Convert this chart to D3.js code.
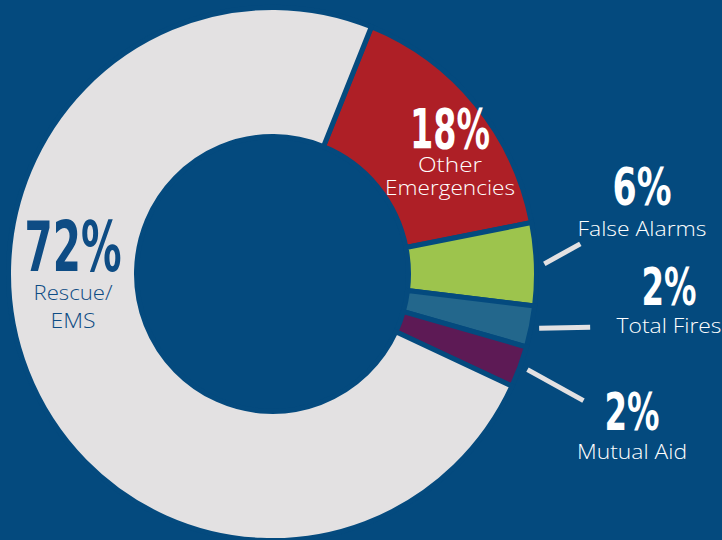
<!DOCTYPE html>
<html>
<head>
<meta charset="utf-8">
<script src="https://cdn.jsdelivr.net/npm/d3@7"></script>
<style>
  html, body { margin: 0; padding: 0; background: #044a7e; }
  svg { display: block; }
</style>
</head>
<body>
<script>
// ---- data (slice sizes, in order clockwise from ~22°) ----
const categories = ["Other Emergencies", "False Alarms", "Total Fires", "Mutual Aid", "Rescue/EMS"];
const values = [15.8, 5.0, 2.5, 2.5, 74.2];
const percentLabels = ["18%", "6%", "2%", "2%", "72%"];
const nameLines = [["Other", "Emergencies"], ["False Alarms"], ["Total Fires"], ["Mutual Aid"], ["Rescue/", "EMS"]];
const colors = ["#ae1f26", "#9dc44d", "#23678c", "#5d1a55", "#e3e1e2"];

const W = 722, H = 540;
const BG = "#044a7e";
const cx = 272.5, cy = 274, rIn = 136, rOut = 264;

const svg = d3.select("body").append("svg").attr("width", W).attr("height", H);
svg.append("rect").attr("width", W).attr("height", H).attr("fill", BG);

const start = 22 * Math.PI / 180;
const pie = d3.pie().sort(null).value(d => d).startAngle(start).endAngle(start + 2 * Math.PI);
const arcs = pie(values);
const arc = d3.arc().innerRadius(rIn).outerRadius(rOut);

const g = svg.append("g").attr("transform", `translate(${cx},${cy}) scale(1,1.01)`);
g.selectAll("path").data(arcs).join("path")
  .attr("d", arc)
  .attr("fill", (d, i) => colors[i])
  .attr("stroke", BG)
  .attr("stroke-width", 5)
  .attr("stroke-linejoin", "miter");

// leader lines for small slices (index 1..3)
const leader = [
  { i: 1, dx: 36, dy: -20 },
  { i: 2, dx: 51, dy: -1 },
  { i: 3, dx: 56, dy: 31 }
];
leader.forEach(l => {
  const a = arcs[l.i];
  const mid = (a.startAngle + a.endAngle) / 2;
  const r0 = rOut + 8;
  const x0 = cx + r0 * Math.sin(mid), y0 = cy - r0 * Math.cos(mid) * 1.01;
  svg.append("line")
    .attr("x1", x0).attr("y1", y0)
    .attr("x2", x0 + l.dx).attr("y2", y0 + l.dy)
    .attr("stroke", "#e3e1e2").attr("stroke-width", 5);
});

// labels: [center x, percent baseline, percent width, percent font size, name baseline, name line gap, color, name size]
const labelPos = [
  { x: 450, py: 148, pw: 80, ps: 55, ny: 172, gap: 23, col: "#ffffff", ns: 19.5, nw: [64, 130] },
  { x: 642, py: 205, pw: 59, ps: 51, ny: 236, gap: 23, col: "#ffffff", ns: 19.5, nw: [129] },
  { x: 669, py: 305, pw: 55, ps: 51, ny: 333, gap: 23, col: "#ffffff", ns: 19.5, nw: [105] },
  { x: 632, py: 430, pw: 55, ps: 51, ny: 459, gap: 23, col: "#ffffff", ns: 19.5, nw: [110] },
  { x: 73, py: 271, pw: 97, ps: 69, ny: 300, gap: 28, col: "#0e4c84", ns: 20, nw: [79, 45] }
];

labelPos.forEach((p, i) => {
  svg.append("text")
    .attr("x", p.x).attr("y", p.py)
    .attr("text-anchor", "middle")
    .attr("font-family", "'DejaVu Sans Condensed', 'Liberation Sans Narrow', sans-serif")
    .attr("font-weight", "bold")
    .attr("font-size", p.ps)
    .attr("textLength", p.pw)
    .attr("lengthAdjust", "spacingAndGlyphs")
    .attr("fill", p.col)
    .text(percentLabels[i]);
  nameLines[i].forEach((line, j) => {
    svg.append("text")
      .attr("x", p.x).attr("y", p.ny + j * p.gap)
      .attr("text-anchor", "middle")
      .attr("font-family", "'Open Sans', 'Lato', sans-serif")
      .attr("font-weight", 300)
      .attr("font-size", p.ns)
      .attr("textLength", p.nw[j])
      .attr("lengthAdjust", "spacingAndGlyphs")
      .attr("fill", p.col)
      .text(line);
  });
});
</script>
</body>
</html>
